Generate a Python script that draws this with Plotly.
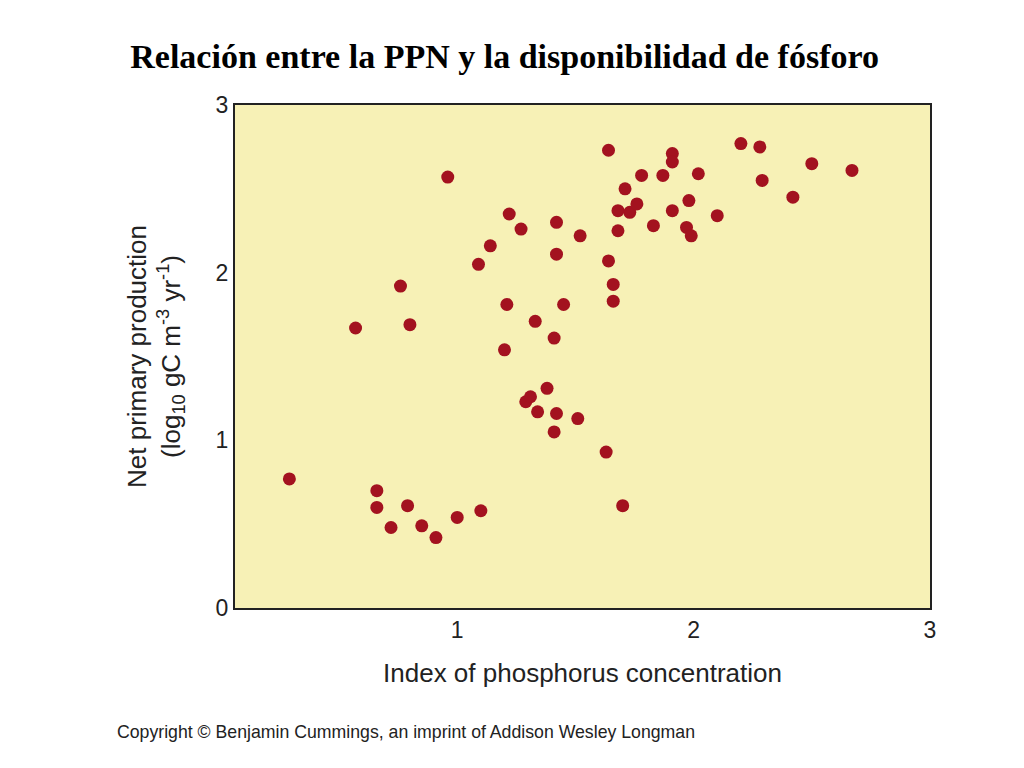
import plotly.graph_objects as go

phosphorus = [0.29,0.57,0.66,0.66,0.72,0.76,0.79,0.80,0.85,0.91,0.96,1.00,1.09,1.10,1.14,1.20,1.21,1.22,1.27,1.29,
              1.31,1.33,1.34,1.38,1.41,1.41,1.42,1.42,1.42,1.45,1.51,1.52,1.63,1.64,1.64,1.66,1.66,1.68,1.68,1.70,
              1.71,1.73,1.76,1.78,1.83,1.87,1.91,1.91,1.91,1.97,1.98,1.99,2.02,2.10,2.20,2.28,2.29,2.42,2.50,2.67]
npp = [0.77,1.67,0.70,0.60,0.48,1.92,0.61,1.69,0.49,0.42,2.57,0.54,2.05,0.58,2.16,1.54,1.81,2.35,2.26,1.23,
       1.26,1.71,1.17,1.31,1.61,1.05,2.11,2.30,1.16,1.81,1.13,2.22,0.93,2.73,2.07,1.93,1.83,2.37,2.25,0.61,
       2.50,2.36,2.41,2.58,2.28,2.58,2.71,2.66,2.37,2.27,2.43,2.22,2.59,2.34,2.77,2.75,2.55,2.45,2.65,2.61]
x_ticks = [1, 2, 3]
y_ticks = [0, 1, 2, 3]

fig = go.Figure(go.Scatter(x=phosphorus, y=npp, mode="markers",
                           marker=dict(size=13, color="#a3121f", line=dict(width=0))))
tfont = dict(family="Liberation Sans, Arial", size=23, color="#222")
font = dict(family="Liberation Sans, Arial", size=26, color="#222")
fig.update_layout(
    width=1024, height=768, paper_bgcolor="white", plot_bgcolor="#f7f1b6",
    margin=dict(l=227, r=102, t=97, b=168), showlegend=False,
    title=dict(text="<b>Relación entre la PPN y la disponibilidad de fósforo</b>",
               x=0.485, xanchor="center", y=0.938, yanchor="middle",
               font=dict(family="Liberation Serif, Times New Roman", size=34, color="black")),
    annotations=[dict(text="Copyright © Benjamin Cummings, an imprint of Addison Wesley Longman",
                      xref="paper", yref="paper", x=-0.173, y=-0.247, xanchor="left", yanchor="middle",
                      showarrow=False, font=dict(family="Liberation Sans, Arial", size=17.7, color="#222"))],
)
fig.update_xaxes(range=[0.06, 3], tickvals=x_ticks, showgrid=False, zeroline=False,
                 showline=True, linecolor="#222", linewidth=2, mirror=True, ticks="",
                 tickfont=tfont, title=dict(text="Index of phosphorus concentration", font=font, standoff=22))
fig.update_yaxes(range=[0, 3], tickvals=y_ticks, showgrid=False, zeroline=False,
                 showline=True, linecolor="#222", linewidth=2, mirror=True, ticks="",
                 tickfont=tfont,
                 title=dict(text="Net primary production<br>(log<sub>10</sub> gC m<sup>-3</sup> yr<sup>-1</sup>)",
                            font=font, standoff=28))
fig.write_html("out.html")
